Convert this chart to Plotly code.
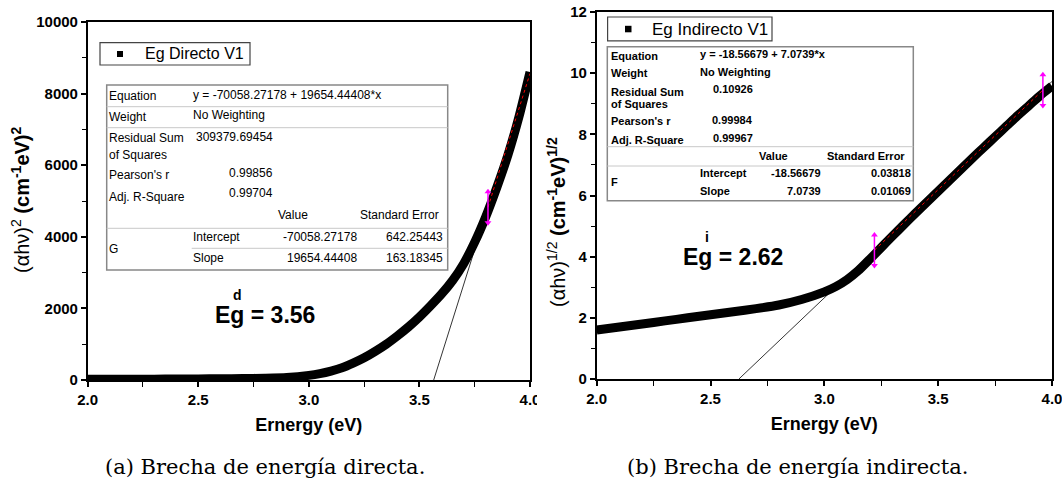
import plotly.graph_objects as go

W, H = 1062, 487

# ---------------- data ----------------
energy_d = [2.0, 2.1, 2.2, 2.3, 2.4, 2.5, 2.6, 2.7, 2.8, 2.9, 3.0, 3.05, 3.1, 3.15, 3.2, 3.25, 3.3,
            3.35, 3.4, 3.45, 3.5, 3.55, 3.6, 3.65, 3.7, 3.75, 3.8, 3.85, 3.9, 3.95, 4.0]
alpha_sq = [20, 21, 22, 24, 26, 30, 34, 40, 50, 70, 130, 180, 250, 340, 470, 620, 800,
            1000, 1230, 1480, 1760, 2070, 2400, 2780, 3250, 3850, 4560, 5380, 6280, 7350, 8600]

energy_i = [2.0, 2.1, 2.2, 2.3, 2.4, 2.5, 2.6, 2.7, 2.8, 2.9, 3.0, 3.05, 3.1, 3.15, 3.2, 3.25, 3.3,
            3.35, 3.4, 3.45, 3.5, 3.55, 3.6, 3.65, 3.7, 3.75, 3.8, 3.85, 3.9, 3.95, 4.0]
alpha_sqrt = [1.60, 1.70, 1.80, 1.90, 2.00, 2.10, 2.20, 2.30, 2.42, 2.60, 2.85, 3.02, 3.25, 3.55, 3.92,
              4.30, 4.68, 5.05, 5.42, 5.78, 6.14, 6.50, 6.86, 7.22, 7.57, 7.92, 8.27, 8.62, 8.95, 9.28, 9.58]

fit_d = {"intercept": -70058.27178, "slope": 19654.44408}
fit_i = {"intercept": -18.56679, "slope": 7.0739}
fit_range_d = [3.81, 4.0]
fit_range_i = [3.22, 3.96]
arrows_d = [3.81]
arrows_i = [3.22, 3.96]

legend_d = "Eg Directo V1"
legend_i = "Eg Indirecto V1"
eg_d = ("Eg = 3.56", "d")
eg_i = ("Eg = 2.62", "i")
caption_a = "(a) Brecha de energía directa."
caption_b = "(b) Brecha de energía indirecta."
xtitle = "Ernergy (eV)"
ytitle_d = "(αhν)<sup>2</sup> <b>(cm<sup>-1</sup>eV)<sup>2</sup></b>"
ytitle_i = "(αhν)<sup>1/2</sup> <b>(cm<sup>-1</sup>eV)<sup>1/2</sup></b>"

table_d_rows = [
    ["Equation", "y = -70058.27178 + 19654.44408*x"],
    ["Weight", "No Weighting"],
    ["Residual Sum", "309379.69454"],
    ["of Squares"],
    ["Pearson's r", "0.99856"],
    ["Adj. R-Square", "0.99704"],
    ["Value", "Standard Error"],
    ["G"],
    ["Intercept", "-70058.27178", "642.25443"],
    ["Slope", "19654.44408", "163.18345"],
]
table_i_rows = [
    ["Equation", "y = -18.56679 + 7.0739*x"],
    ["Weight", "No Weighting"],
    ["Residual Sum", "0.10926"],
    ["of Squares"],
    ["Pearson's r", "0.99984"],
    ["Adj. R-Square", "0.99967"],
    ["Value", "Standard Error"],
    ["F"],
    ["Intercept", "-18.56679", "0.03818"],
    ["Slope", "7.0739", "0.01069"],
]

# ---------------- helpers ----------------
def px(x):
    return x / W

def py(y):
    return 1 - y / H

fig = go.Figure()

def add_panel(xref, yref, ex, ey, fit, frange, arrows, half):
    x0 = -fit["intercept"] / fit["slope"]
    xs = [x0, 4.0]
    fig.add_trace(go.Scatter(x=xs, y=[fit["intercept"] + fit["slope"] * v for v in xs],
                             mode="lines", line=dict(color="black", width=0.8),
                             xaxis=xref, yaxis=yref, hoverinfo="skip"))
    fig.add_trace(go.Scatter(x=ex, y=ey, mode="lines",
                             line=dict(color="black", width=9, shape="spline", smoothing=0.6),
                             xaxis=xref, yaxis=yref))
    fig.add_trace(go.Scatter(x=frange, y=[fit["intercept"] + fit["slope"] * v for v in frange],
                             mode="lines", line=dict(color="red", width=1, dash="dot"),
                             xaxis=xref, yaxis=yref, hoverinfo="skip"))
    for a in arrows:
        c = fit["intercept"] + fit["slope"] * a
        fig.add_trace(go.Scatter(x=[a, a], y=[c - half, c + half], mode="lines+markers",
                                 line=dict(color="#ff00ff", width=1.5),
                                 marker=dict(symbol=["triangle-down", "triangle-up"], size=6,
                                             color="#ff00ff"),
                                 xaxis=xref, yaxis=yref, hoverinfo="skip"))

add_panel("x", "y", energy_d, alpha_sq, fit_d, fit_range_d, arrows_d, 430)
add_panel("x2", "y2", energy_i, alpha_sqrt, fit_i, fit_range_i, arrows_i, 0.5)

tickfont = dict(family="Arial", size=15, color="black", weight="bold")
titlefont = dict(family="Arial", size=18, color="black", weight="bold")
common_x = dict(range=[2.0, 4.0], dtick=0.5, tick0=2.0, tickformat=".1f", showgrid=False,
                zeroline=False, showline=True, linecolor="black", linewidth=1.5, mirror=True,
                automargin=False, ticklabelstandoff=0, ticklabeloverflow="allow",
                ticks="outside", ticklen=5, tickwidth=1.5, tickcolor="black", tickfont=tickfont,
                minor=dict(dtick=0.25, ticks="outside", ticklen=5, tickwidth=1.2, tickcolor="black"),
                title=dict(text=xtitle, font=titlefont, standoff=12))
common_y = dict(showgrid=False, zeroline=False, showline=True, linecolor="black", linewidth=1.5,
                mirror=True, ticks="outside", ticklen=5, tickwidth=1.5, tickcolor="black",
                automargin=False, tickformat="d", tickfont=tickfont)

fig.update_layout(
    width=W, height=H, margin=dict(l=0, r=0, t=0, b=0, autoexpand=False),
    paper_bgcolor="white", plot_bgcolor="white", showlegend=False,
    xaxis=dict(domain=[px(87.7), px(530)], anchor="y", **common_x),
    yaxis=dict(domain=[py(380), py(22)], anchor="x", range=[0, 10000], dtick=2000,
               minor=dict(dtick=1000, ticks="outside", ticklen=4, tickwidth=1.2, tickcolor="black"),
               **common_y),
    xaxis2=dict(domain=[px(596.7), px(1052)], anchor="y2", **common_x),
    yaxis2=dict(domain=[py(379), py(12)], anchor="x2", range=[0, 12], dtick=2,
                minor=dict(dtick=1, ticks="outside", ticklen=4, tickwidth=1.2, tickcolor="black"),
                **common_y),
)

shapes = []
annotations = []

def text(t, x, y, size, anchor="left", bold=False, family="Arial", color="black", angle=0):
    annotations.append(dict(text=t, x=px(x), y=py(y), xref="paper", yref="paper",
                            xanchor=anchor, yanchor="middle", showarrow=False, textangle=angle,
                            font=dict(family=family, size=size, color=color,
                                      weight="bold" if bold else "normal"),
                            borderpad=0))

def rect(x0, y0, x1, y1, color="#777", width=1.2, fill="white"):
    shapes.append(dict(type="rect", xref="paper", yref="paper", x0=px(x0), x1=px(x1),
                       y0=py(y1), y1=py(y0), line=dict(color=color, width=width), fillcolor=fill,
                       layer="above"))

def hline(x0, x1, y, color="#c8c8c8", width=1):
    shapes.append(dict(type="line", xref="paper", yref="paper", x0=px(x0), x1=px(x1),
                       y0=py(y), y1=py(y), line=dict(color=color, width=width), layer="above"))

# y-axis titles
text(ytitle_d, 20, 200, 20, "center", angle=-90)
text(ytitle_i, 556, 222, 20, "center", angle=-90)

# subfigure clip of the left panel's last tick label
shapes.append(dict(type="rect", xref="paper", yref="paper", x0=px(537), x1=px(560),
                   y0=py(412), y1=py(386), fillcolor="white", line=dict(width=0), layer="above"))

# legends
rect(100, 42.7, 250, 65, color="#444", width=1.2)
shapes.append(dict(type="rect", xref="paper", yref="paper", x0=px(117), x1=px(123),
                   y0=py(57), y1=py(51), fillcolor="black", line=dict(width=0), layer="above"))
text(legend_d, 144, 54, 16)
rect(607.6, 17, 772, 40.8, color="#444", width=1.2)
shapes.append(dict(type="rect", xref="paper", yref="paper", x0=px(625), x1=px(631.5),
                   y0=py(32.3), y1=py(25.8), fillcolor="black", line=dict(width=0), layer="above"))
text(legend_i, 651, 29, 17)

# left table
rect(106.7, 85, 447.7, 270, color="#888", width=1.5)
hline(106.7, 447.7, 106.7)
hline(106.7, 447.7, 127.7)
hline(106.7, 447.7, 228.3)
hline(191.7, 447.7, 248.3)
td = table_d_rows
fs = 12
text(td[0][0], 108.3, 96, fs); text(td[0][1], 191.7, 95, fs)
text(td[1][0], 108.3, 116.7, fs); text(td[1][1], 191.7, 115, fs)
text(td[2][0], 108.3, 138.3, fs); text(td[2][1], 274.3, 136.7, fs, "right")
text(td[3][0], 108.3, 155, fs)
text(td[4][0], 108.3, 175, fs); text(td[4][1], 274.3, 173.3, fs, "right")
text(td[5][0], 108.3, 196.7, fs); text(td[5][1], 274.3, 193.3, fs, "right")
text(td[6][0], 293.3, 215, fs, "center"); text(td[6][1], 440, 215, fs, "right")
text(td[7][0], 108.3, 249, fs)
text(td[8][0], 191.7, 236.7, fs); text(td[8][1], 358.3, 236.7, fs, "right"); text(td[8][2], 444.3, 236.7, fs, "right")
text(td[9][0], 191.7, 257.7, fs); text(td[9][1], 358.3, 257.7, fs, "right"); text(td[9][2], 444.3, 257.7, fs, "right")

# right table
rect(607.3, 46.7, 913.3, 200.7, color="#888", width=1.5)
hline(607.3, 913.3, 146.7)
hline(607.3, 913.3, 166)
ti = table_i_rows
fs = 11
text(ti[0][0], 610, 56, fs, bold=True); text(ti[0][1], 699.3, 54.3, fs, bold=True)
text(ti[1][0], 610, 73.3, fs, bold=True); text(ti[1][1], 699.3, 72, fs, bold=True)
text(ti[2][0], 610, 91.7, fs, bold=True); text(ti[2][1], 754.3, 89.3, fs, "right", bold=True)
text(ti[3][0], 610, 104, fs, bold=True)
text(ti[4][0], 610, 121, fs, bold=True); text(ti[4][1], 754.3, 120, fs, "right", bold=True)
text(ti[5][0], 610, 140, fs, bold=True); text(ti[5][1], 754.3, 138, fs, "right", bold=True)
text(ti[6][0], 773.3, 155.7, fs, "center", bold=True); text(ti[6][1], 906, 155.7, fs, "right", bold=True)
text(ti[7][0], 610, 181.7, fs, bold=True)
text(ti[8][0], 699.3, 173.3, fs, bold=True); text(ti[8][1], 821.7, 173.3, fs, "right", bold=True); text(ti[8][2], 911.7, 173.3, fs, "right", bold=True)
text(ti[9][0], 699.3, 190.7, fs, bold=True); text(ti[9][1], 821.7, 190.7, fs, "right", bold=True); text(ti[9][2], 911.7, 190.7, fs, "right", bold=True)

# band gap labels
text(eg_d[0], 214, 315, 23, bold=True)
text(eg_d[1], 237.5, 295, 14, "center", bold=True)
text(eg_i[0], 682, 257, 23, bold=True)
text(eg_i[1], 706.7, 237, 14, "center", bold=True)

# captions
text(caption_a, 265, 467, 21, "center", family="DejaVu Serif")
text(caption_b, 797, 467, 21, "center", family="DejaVu Serif")

fig.update_layout(shapes=shapes, annotations=annotations)
fig.write_html("out.html")
